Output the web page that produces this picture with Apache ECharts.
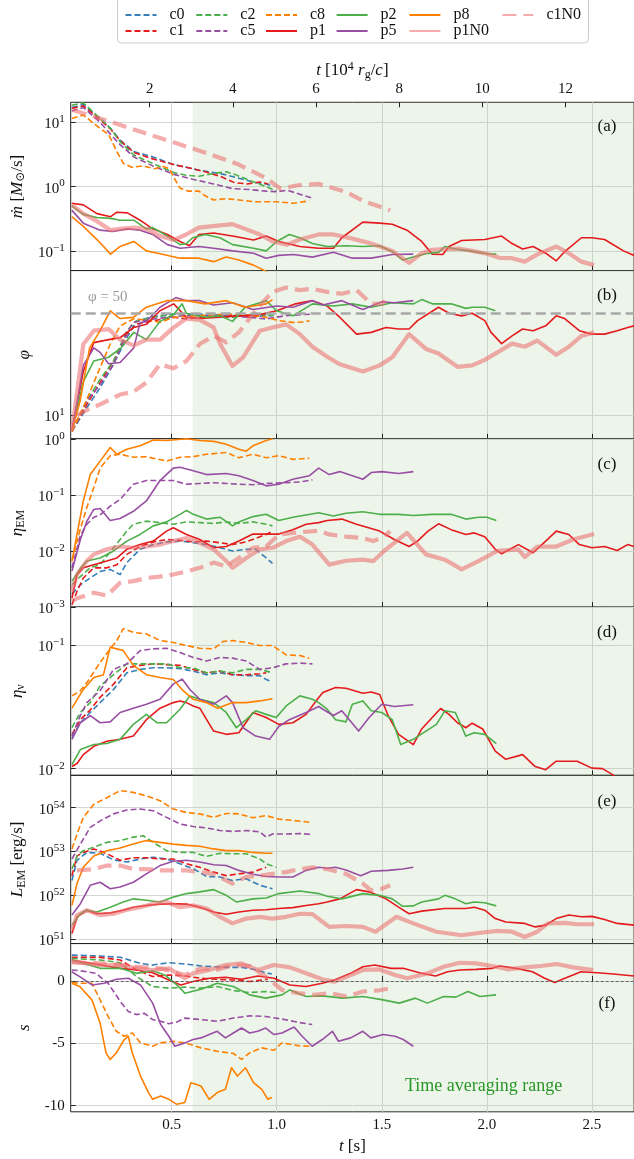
<!DOCTYPE html>
<html>
<head>
<meta charset="utf-8">
<script src="https://cdn.jsdelivr.net/npm/echarts@6/dist/echarts.min.js"></script>
<style>
html, body { margin: 0; padding: 0; background: #fff; }
#chart { width: 634px; height: 1159px; }
</style>
</head>
<body>
<div id="chart"></div>
<script>
// run names, in legend order
const names = ['c0', 'c1', 'c2', 'c5', 'c8', 'p1', 'p2', 'p5', 'p8', 'p1N0', 'c1N0'];
const xTicks = [0.5, 1.0, 1.5, 2.0, 2.5];
const topTicks = [2, 4, 6, 8, 10, 12];
const avgRange = [0.6, 2.7];
const phiRef = 50;

// (a) mdot [Msun/s]
const mdot_c0 = [[0.025,17],[0.08,19],[0.16,11.5],[0.21,8],[0.255,5.3],[0.32,3.5],[0.41,2.9],[0.51,2.2],[0.57,2.0],[0.63,1.8],[0.73,1.6],[0.82,1.35],[0.89,1.17],[0.95,1.1],[0.98,1.02]];
const mdot_c1 = [[0.025,16.5],[0.08,18],[0.16,11],[0.21,7.8],[0.255,5.2],[0.32,3.4],[0.41,2.7],[0.51,2.2],[0.6,1.9],[0.66,1.7],[0.73,1.45],[0.8,1.15],[0.86,1.1],[0.92,1.18],[0.96,1.1]];
const mdot_c2 = [[0.025,18.5],[0.08,20],[0.16,11.5],[0.21,8],[0.255,5],[0.32,3.1],[0.41,2.3],[0.51,1.65],[0.57,1.5],[0.63,1.45],[0.7,1.6],[0.76,1.7],[0.8,1.55],[0.87,1.25],[0.95,1.0],[1.0,0.85]];
const mdot_c5 = [[0.025,15],[0.08,17],[0.16,10],[0.21,6.5],[0.255,4.5],[0.32,2.9],[0.41,2.1],[0.51,1.55],[0.6,1.3],[0.7,1.1],[0.79,0.93],[0.87,0.9],[0.95,0.85],[1.0,0.83],[1.05,0.88],[1.11,0.76],[1.17,0.66]];
const mdot_c8 = [[0.025,11.5],[0.08,13],[0.16,8],[0.2,6.5],[0.24,3.5],[0.27,2.3],[0.31,2.0],[0.36,2.1],[0.42,1.9],[0.46,2.05],[0.49,1.9],[0.51,1.4],[0.54,0.95],[0.58,0.85],[0.63,0.85],[0.66,0.72],[0.7,0.62],[0.76,0.65],[0.82,0.62],[0.9,0.58],[1.0,0.58],[1.08,0.55],[1.155,0.6]];
const mdot_p1 = [[0.025,0.55],[0.08,0.52],[0.145,0.38],[0.21,0.34],[0.24,0.4],[0.29,0.39],[0.35,0.30],[0.41,0.22],[0.48,0.18],[0.54,0.14],[0.585,0.12],[0.63,0.18],[0.7,0.19],[0.79,0.17],[0.89,0.148],[0.95,0.17],[1.01,0.14],[1.11,0.117],[1.2,0.11],[1.27,0.11],[1.31,0.16],[1.41,0.28],[1.49,0.27],[1.55,0.26],[1.62,0.21],[1.69,0.14],[1.74,0.089],[1.79,0.088],[1.82,0.117],[1.88,0.145],[1.99,0.15],[2.07,0.17],[2.12,0.13],[2.17,0.107],[2.22,0.117],[2.28,0.092],[2.33,0.07],[2.37,0.097],[2.45,0.16],[2.5,0.16],[2.56,0.15],[2.65,0.1],[2.7,0.085]];
const mdot_p2 = [[0.025,0.5],[0.08,0.37],[0.145,0.33],[0.21,0.32],[0.255,0.30],[0.32,0.30],[0.38,0.22],[0.41,0.23],[0.48,0.17],[0.54,0.125],[0.57,0.13],[0.6,0.16],[0.66,0.18],[0.73,0.16],[0.79,0.125],[0.89,0.11],[0.95,0.10],[1.0,0.14],[1.06,0.18],[1.11,0.16],[1.17,0.13],[1.24,0.117],[1.33,0.12],[1.41,0.117],[1.49,0.12],[1.55,0.097],[1.6,0.072],[1.65,0.08],[1.71,0.09],[1.77,0.095],[1.8,0.117],[1.85,0.107],[1.92,0.1],[2.0,0.09],[2.045,0.089]];
const mdot_p5 = [[0.025,0.43],[0.08,0.27],[0.16,0.21],[0.22,0.2],[0.29,0.22],[0.35,0.21],[0.41,0.18],[0.48,0.125],[0.54,0.11],[0.63,0.117],[0.7,0.11],[0.79,0.10],[0.89,0.092],[0.95,0.077],[1.01,0.085],[1.08,0.088],[1.17,0.08],[1.27,0.095],[1.36,0.077],[1.45,0.077],[1.55,0.088],[1.65,0.089]];
const mdot_p8 = [[0.025,0.34],[0.08,0.24],[0.145,0.15],[0.21,0.089],[0.255,0.117],[0.32,0.14],[0.38,0.1],[0.445,0.09],[0.54,0.077],[0.63,0.077],[0.7,0.068],[0.76,0.08],[0.82,0.072],[0.89,0.06],[0.95,0.048],[0.98,0.042]];
const mdot_p1N0 = [[0.025,0.52],[0.08,0.38],[0.145,0.29],[0.21,0.21],[0.255,0.22],[0.32,0.23],[0.38,0.22],[0.445,0.17],[0.51,0.148],[0.57,0.18],[0.63,0.23],[0.73,0.25],[0.79,0.26],[0.85,0.22],[0.92,0.18],[0.98,0.14],[1.05,0.125],[1.11,0.15],[1.2,0.18],[1.27,0.18],[1.36,0.155],[1.45,0.13],[1.55,0.1],[1.63,0.065],[1.69,0.092],[1.74,0.104],[1.8,0.107],[1.87,0.108],[1.93,0.1],[2.0,0.09],[2.06,0.078],[2.12,0.077],[2.18,0.068],[2.24,0.088],[2.33,0.117],[2.39,0.092],[2.45,0.068],[2.51,0.06]];
const mdot_c1N0 = [[0.03,15.5],[0.16,11.5],[0.35,7.2],[0.5,5.0],[0.67,3.3],[0.82,2.2],[0.95,1.35],[1.02,0.92],[1.1,1.05],[1.2,1.1],[1.33,0.83],[1.41,0.6],[1.54,0.43]];

// (b) phi
const phi_c0 = [[0.026,7.8],[0.097,11.3],[0.16,15.5],[0.224,22.4],[0.287,34],[0.334,44.5],[0.413,47.4],[0.508,49.4],[0.634,49.4],[0.79,48.2],[0.887,47.4],[0.98,48.2]];
const phi_c1 = [[0.026,7.8],[0.097,11.9],[0.16,16.8],[0.224,23.6],[0.287,36],[0.334,42.2],[0.413,44.5],[0.508,46.9],[0.571,45.7],[0.634,46.9],[0.79,48.2],[0.887,46.9],[0.95,49.4]];
const phi_c2 = [[0.026,7.8],[0.097,12.6],[0.16,17.7],[0.224,23.6],[0.287,38],[0.334,44.5],[0.413,46.9],[0.508,49.4],[0.634,48.2],[0.79,46.9],[0.887,49.4],[0.998,48.2]];
const phi_c5 = [[0.026,7.8],[0.097,12.6],[0.16,16.3],[0.224,22.4],[0.287,37],[0.318,43.3],[0.38,45],[0.476,46.9],[0.571,48.2],[0.7,48.2],[0.82,47.6],[0.95,45.7],[1.045,48.2],[1.17,49.4]];
const phi_c8 = [[0.026,7.8],[0.097,12.9],[0.16,21.3],[0.208,30.8],[0.255,41],[0.318,45.7],[0.38,45],[0.445,43.3],[0.508,46.9],[0.634,48.2],[0.76,49.4],[0.887,48.2],[0.95,46.9],[1.01,44.5],[1.077,43.3],[1.13,43.6],[1.156,44.5]];
const phi_p1 = [[0.026,7.8],[0.08,20],[0.13,31.5],[0.2,33],[0.255,34],[0.32,40],[0.38,42],[0.445,52],[0.51,58],[0.57,47],[0.634,46],[0.73,47],[0.82,48],[0.92,49],[1.0,52],[1.09,58],[1.17,61],[1.24,56],[1.3,47],[1.38,36],[1.45,37],[1.52,40],[1.58,39],[1.63,39],[1.67,44.5],[1.77,55],[1.82,50],[1.88,48],[1.93,50],[1.99,44.5],[2.02,37],[2.07,31],[2.12,35],[2.17,39],[2.22,38],[2.28,41],[2.33,48],[2.37,46],[2.44,38],[2.5,36],[2.56,36],[2.62,38],[2.67,40],[2.7,41]];
const phi_p2 = [[0.026,7.8],[0.08,17],[0.13,23.6],[0.2,25],[0.26,29],[0.32,37],[0.38,33],[0.445,44],[0.51,49],[0.55,58],[0.57,50],[0.66,47],[0.73,48],[0.79,44],[0.85,55],[0.95,61],[1.0,52],[1.077,48],[1.17,58],[1.27,56],[1.36,58],[1.45,55],[1.55,59],[1.65,58],[1.69,62],[1.74,58],[1.83,58],[1.9,54],[1.93,55],[1.99,55],[2.04,52]];
const phi_p5 = [[0.026,7.8],[0.08,22],[0.13,29],[0.16,27],[0.2,22.6],[0.255,23],[0.32,29],[0.35,43],[0.38,44],[0.445,55],[0.52,64],[0.57,61],[0.634,61],[0.7,57],[0.79,59],[0.887,53],[1.0,56],[1.077,55],[1.17,61],[1.22,57],[1.31,61],[1.41,53],[1.5,60],[1.56,59],[1.65,61]];
const phi_p8 = [[0.026,7.8],[0.065,12.6],[0.11,29],[0.16,38],[0.208,52],[0.255,46],[0.318,46.9],[0.38,55],[0.476,61],[0.571,61],[0.66,58],[0.76,61],[0.85,55],[0.95,58],[0.98,62]];
const phi_p1N0 = [[0.026,7.8],[0.08,30.7],[0.13,38],[0.2,39],[0.255,33],[0.32,30],[0.38,33],[0.445,33],[0.51,40],[0.57,46],[0.634,45],[0.7,40],[0.73,31],[0.79,21.8],[0.84,25],[0.92,38],[0.98,40],[1.045,42],[1.11,36],[1.17,29.5],[1.24,25.2],[1.3,22.4],[1.41,20],[1.49,22],[1.55,25],[1.63,36],[1.71,28.5],[1.77,26.5],[1.86,21.5],[1.93,22],[1.99,24],[2.05,27],[2.12,31],[2.18,29.5],[2.24,32.5],[2.33,26],[2.39,29.5],[2.45,35],[2.51,37]];
const phi_c1N0 = [[0.05,10],[0.097,10.9],[0.16,11.9],[0.255,13.9],[0.318,14.5],[0.38,16.8],[0.445,22.4],[0.508,21],[0.571,23.6],[0.634,30.8],[0.7,35],[0.76,31.6],[0.82,37],[0.92,56.5],[0.98,70],[1.045,75],[1.11,72],[1.17,73.5],[1.24,70],[1.31,68],[1.38,72],[1.45,58],[1.5,58],[1.54,65]];

// (c) eta_EM
const etaEM_c0 = [[0.026,0.0017],[0.066,0.0025],[0.113,0.0033],[0.16,0.0043],[0.208,0.0047],[0.255,0.0038],[0.287,0.0062],[0.35,0.0107],[0.413,0.013],[0.476,0.0145],[0.54,0.015],[0.603,0.014],[0.666,0.013],[0.73,0.0114],[0.79,0.01],[0.855,0.0107],[0.9,0.0107],[0.95,0.0075],[0.98,0.006]];
const etaEM_c1 = [[0.026,0.0011],[0.05,0.0019],[0.08,0.0033],[0.13,0.005],[0.192,0.005],[0.24,0.0057],[0.287,0.0087],[0.35,0.012],[0.413,0.0145],[0.476,0.016],[0.54,0.0155],[0.603,0.0145],[0.666,0.015],[0.73,0.014],[0.79,0.013],[0.855,0.0145],[0.95,0.0197],[0.98,0.0226]];
const etaEM_c2 = [[0.026,0.0025],[0.066,0.0035],[0.113,0.005],[0.16,0.0057],[0.224,0.0114],[0.287,0.0226],[0.318,0.03],[0.38,0.034],[0.445,0.032],[0.508,0.03],[0.571,0.033],[0.634,0.032],[0.7,0.031],[0.76,0.033],[0.82,0.031],[0.887,0.033],[0.95,0.03],[0.98,0.028]];
const etaEM_c5 = [[0.026,0.005],[0.066,0.019],[0.097,0.03],[0.13,0.04],[0.16,0.044],[0.208,0.063],[0.255,0.083],[0.318,0.155],[0.38,0.18],[0.445,0.18],[0.508,0.18],[0.571,0.155],[0.634,0.16],[0.7,0.165],[0.76,0.16],[0.82,0.155],[0.887,0.152],[0.95,0.16],[1.045,0.165],[1.11,0.17],[1.17,0.185]];
const etaEM_c8 = [[0.026,0.0066],[0.066,0.025],[0.097,0.06],[0.13,0.135],[0.16,0.3],[0.208,0.5],[0.255,0.53],[0.318,0.47],[0.38,0.48],[0.476,0.4],[0.54,0.47],[0.603,0.48],[0.666,0.53],[0.76,0.57],[0.82,0.46],[0.887,0.53],[0.95,0.46],[1.01,0.5],[1.077,0.43],[1.155,0.45]];
const etaEM_p1 = [[0.026,0.00145],[0.05,0.0038],[0.08,0.005],[0.13,0.0057],[0.192,0.0066],[0.24,0.0075],[0.287,0.0107],[0.35,0.013],[0.413,0.015],[0.476,0.0226],[0.508,0.026],[0.571,0.0197],[0.634,0.016],[0.7,0.0114],[0.76,0.012],[0.82,0.015],[0.887,0.02],[0.95,0.02],[1.01,0.02],[1.077,0.024],[1.14,0.03],[1.2,0.032],[1.24,0.035],[1.31,0.037],[1.38,0.03],[1.49,0.0226],[1.56,0.016],[1.63,0.012],[1.67,0.015],[1.72,0.0226],[1.77,0.0305],[1.83,0.024],[1.9,0.0197],[1.94,0.021],[1.99,0.018],[2.04,0.0107],[2.07,0.0089],[2.15,0.013],[2.22,0.0093],[2.28,0.015],[2.33,0.0226],[2.39,0.0197],[2.44,0.013],[2.5,0.0114],[2.56,0.012],[2.62,0.0102],[2.67,0.013],[2.7,0.012]];
const etaEM_p2 = [[0.026,0.0029],[0.066,0.0049],[0.097,0.0066],[0.16,0.0075],[0.224,0.01],[0.287,0.015],[0.35,0.0197],[0.413,0.028],[0.476,0.033],[0.54,0.045],[0.571,0.053],[0.603,0.045],[0.666,0.037],[0.73,0.04],[0.79,0.028],[0.82,0.033],[0.887,0.041],[0.95,0.045],[1.01,0.035],[1.077,0.04],[1.2,0.048],[1.27,0.042],[1.33,0.047],[1.41,0.05],[1.49,0.045],[1.58,0.045],[1.65,0.043],[1.74,0.045],[1.83,0.045],[1.9,0.037],[1.96,0.04],[2.0,0.04],[2.045,0.035]];
const etaEM_p5 = [[0.026,0.0044],[0.066,0.016],[0.097,0.034],[0.13,0.055],[0.16,0.057],[0.208,0.035],[0.255,0.038],[0.318,0.051],[0.38,0.078],[0.445,0.18],[0.508,0.3],[0.54,0.31],[0.603,0.27],[0.666,0.23],[0.76,0.24],[0.82,0.22],[0.887,0.18],[0.95,0.145],[1.01,0.155],[1.077,0.19],[1.156,0.22],[1.2,0.3],[1.25,0.23],[1.3,0.26],[1.41,0.19],[1.45,0.25],[1.5,0.26],[1.58,0.24],[1.65,0.26]];
const etaEM_p8 = [[0.026,0.0066],[0.05,0.0197],[0.08,0.078],[0.113,0.23],[0.16,0.4],[0.208,0.7],[0.24,0.53],[0.287,0.65],[0.35,0.75],[0.413,0.95],[0.476,0.93],[0.571,1.0],[0.634,0.93],[0.7,0.9],[0.76,0.8],[0.82,0.65],[0.855,0.6],[0.887,0.75],[0.95,0.93],[0.98,1.0]];
const etaEM_p1N0 = [[0.026,0.0019],[0.05,0.0038],[0.097,0.0066],[0.13,0.0087],[0.192,0.0107],[0.255,0.012],[0.318,0.0114],[0.38,0.012],[0.445,0.013],[0.508,0.015],[0.571,0.017],[0.634,0.014],[0.7,0.0107],[0.76,0.0066],[0.79,0.005],[0.855,0.0075],[0.92,0.0107],[0.98,0.0114],[1.045,0.015],[1.11,0.018],[1.17,0.013],[1.25,0.0057],[1.33,0.0067],[1.41,0.007],[1.46,0.0066],[1.52,0.0107],[1.62,0.021],[1.71,0.0087],[1.8,0.007],[1.88,0.0047],[1.96,0.0066],[2.05,0.01],[2.15,0.0107],[2.18,0.0078],[2.24,0.012],[2.33,0.012],[2.41,0.016],[2.51,0.02]];
const etaEM_c1N0 = [[0.026,0.0013],[0.066,0.0015],[0.13,0.0018],[0.192,0.0016],[0.255,0.0027],[0.318,0.0029],[0.38,0.0033],[0.445,0.0035],[0.508,0.0038],[0.571,0.0043],[0.634,0.005],[0.7,0.0062],[0.76,0.0053],[0.82,0.0075],[0.887,0.0114],[0.95,0.012],[1.01,0.0197],[1.077,0.021],[1.14,0.022],[1.2,0.023],[1.25,0.0197],[1.33,0.018],[1.41,0.017],[1.46,0.015],[1.51,0.018],[1.54,0.0226]];

// (d) eta_nu
const etanu_c0 = [[0.026,0.0178],[0.066,0.0236],[0.113,0.0286],[0.16,0.0344],[0.224,0.044],[0.287,0.06],[0.35,0.064],[0.413,0.066],[0.476,0.066],[0.54,0.065],[0.603,0.062],[0.666,0.058],[0.73,0.06],[0.79,0.058],[0.855,0.057],[0.92,0.057],[0.95,0.053],[0.975,0.051]];
const etanu_c1 = [[0.026,0.019],[0.066,0.025],[0.113,0.03],[0.16,0.038],[0.224,0.0486],[0.287,0.066],[0.35,0.069],[0.413,0.071],[0.476,0.07],[0.54,0.069],[0.603,0.064],[0.666,0.06],[0.73,0.062],[0.79,0.058],[0.855,0.058],[0.92,0.059],[0.95,0.06]];
const etanu_c2 = [[0.026,0.0215],[0.066,0.0286],[0.113,0.0344],[0.16,0.047],[0.224,0.058],[0.287,0.071],[0.35,0.071],[0.413,0.071],[0.476,0.071],[0.54,0.066],[0.603,0.066],[0.666,0.06],[0.73,0.062],[0.79,0.06],[0.855,0.064],[0.92,0.064],[0.95,0.062],[0.98,0.06]];
const etanu_c5 = [[0.026,0.0184],[0.066,0.027],[0.097,0.0344],[0.16,0.043],[0.224,0.064],[0.287,0.071],[0.35,0.091],[0.413,0.094],[0.476,0.095],[0.54,0.088],[0.603,0.08],[0.666,0.075],[0.73,0.08],[0.79,0.079],[0.855,0.075],[0.92,0.064],[0.98,0.066],[1.045,0.071],[1.11,0.072],[1.17,0.071]];
const etanu_c8 = [[0.026,0.039],[0.066,0.043],[0.097,0.05],[0.16,0.073],[0.208,0.094],[0.24,0.11],[0.27,0.137],[0.318,0.128],[0.38,0.124],[0.445,0.11],[0.508,0.106],[0.571,0.1],[0.634,0.095],[0.7,0.094],[0.745,0.108],[0.79,0.11],[0.855,0.106],[0.92,0.1],[0.98,0.1],[1.045,0.084],[1.11,0.083],[1.155,0.079]];
const etanu_p1 = [[0.026,0.0104],[0.05,0.011],[0.08,0.013],[0.13,0.0152],[0.192,0.0167],[0.255,0.0173],[0.318,0.0184],[0.38,0.025],[0.445,0.031],[0.508,0.0344],[0.54,0.0355],[0.571,0.0344],[0.603,0.0323],[0.634,0.031],[0.7,0.0202],[0.76,0.019],[0.82,0.0196],[0.887,0.0286],[0.95,0.026],[1.01,0.0229],[1.077,0.0236],[1.14,0.0276],[1.2,0.0378],[1.22,0.0415],[1.28,0.0456],[1.33,0.045],[1.41,0.041],[1.45,0.042],[1.49,0.04],[1.53,0.027],[1.58,0.019],[1.65,0.0157],[1.69,0.021],[1.74,0.026],[1.78,0.0308],[1.82,0.0276],[1.86,0.0236],[1.9,0.0215],[1.93,0.0234],[1.98,0.021],[2.04,0.0139],[2.09,0.0119],[2.17,0.013],[2.23,0.0104],[2.28,0.0098],[2.33,0.0115],[2.43,0.0115],[2.5,0.0101],[2.55,0.01],[2.6,0.0089],[2.63,0.0078]];
const etanu_p2 = [[0.026,0.0108],[0.066,0.0143],[0.13,0.0157],[0.192,0.016],[0.255,0.0173],[0.318,0.0229],[0.38,0.0276],[0.43,0.0236],[0.476,0.0236],[0.54,0.0304],[0.587,0.039],[0.634,0.0366],[0.7,0.0344],[0.76,0.0286],[0.808,0.0215],[0.855,0.025],[0.9,0.0295],[0.95,0.0276],[0.998,0.026],[1.045,0.0323],[1.11,0.039],[1.17,0.0366],[1.2,0.0344],[1.24,0.0304],[1.28,0.025],[1.33,0.024],[1.36,0.0334],[1.41,0.0355],[1.45,0.0295],[1.5,0.0286],[1.55,0.025],[1.59,0.0157],[1.65,0.0173],[1.71,0.0202],[1.76,0.0229],[1.8,0.0295],[1.85,0.0286],[1.9,0.0184],[1.94,0.0196],[1.99,0.019],[2.045,0.016]];
const etanu_p5 = [[0.026,0.0173],[0.066,0.0236],[0.113,0.027],[0.16,0.0236],[0.208,0.024],[0.255,0.0286],[0.318,0.031],[0.38,0.0334],[0.445,0.0366],[0.508,0.0486],[0.55,0.0534],[0.587,0.044],[0.634,0.0366],[0.7,0.0334],[0.76,0.039],[0.79,0.0344],[0.84,0.0215],[0.9,0.0184],[0.966,0.0173],[1.01,0.022],[1.06,0.025],[1.14,0.0286],[1.2,0.032],[1.22,0.0304],[1.27,0.027],[1.31,0.0295],[1.39,0.0202],[1.44,0.026],[1.5,0.0334],[1.56,0.032],[1.65,0.033]];
const etanu_p8 = [[0.026,0.031],[0.08,0.044],[0.13,0.055],[0.176,0.058],[0.208,0.097],[0.24,0.094],[0.27,0.091],[0.318,0.069],[0.38,0.058],[0.445,0.055],[0.508,0.053],[0.555,0.043],[0.603,0.0366],[0.666,0.0344],[0.72,0.031],[0.79,0.0344],[0.855,0.0344],[0.92,0.0355],[0.98,0.037]];

// (e) log10 of L_EM [erg/s]
const logLEM_c0 = [[0.026,52.34],[0.05,52.8],[0.097,52.98],[0.16,52.96],[0.224,52.81],[0.287,52.76],[0.35,52.83],[0.413,52.87],[0.476,52.83],[0.54,52.72],[0.603,52.61],[0.666,52.43],[0.73,52.42],[0.79,52.34],[0.855,52.38],[0.92,52.23],[0.98,52.15]];
const logLEM_c1 = [[0.026,52.45],[0.05,52.9],[0.08,52.98],[0.13,53.06],[0.192,52.95],[0.255,52.8],[0.318,52.86],[0.38,52.86],[0.445,52.83],[0.508,52.83],[0.571,52.72],[0.634,52.64],[0.7,52.53],[0.76,52.45],[0.82,52.49],[0.887,52.53],[0.95,52.64]];
const logLEM_c2 = [[0.026,52.6],[0.05,52.9],[0.08,53.02],[0.13,53.1],[0.192,53.21],[0.255,53.25],[0.318,53.33],[0.365,53.36],[0.413,53.21],[0.476,53.02],[0.54,52.98],[0.603,52.98],[0.666,52.89],[0.73,52.96],[0.79,52.95],[0.855,52.95],[0.92,52.83],[0.95,52.72],[0.998,52.64]];
const logLEM_c5 = [[0.026,52.83],[0.066,53.17],[0.113,53.55],[0.16,53.7],[0.224,53.86],[0.287,53.95],[0.35,53.97],[0.413,53.93],[0.476,53.78],[0.54,53.63],[0.603,53.57],[0.666,53.54],[0.73,53.48],[0.79,53.46],[0.855,53.48],[0.92,53.45],[0.95,53.33],[0.98,53.4],[1.045,53.4],[1.11,53.41],[1.17,53.39]];
const logLEM_c8 = [[0.026,53.06],[0.05,53.4],[0.08,53.78],[0.13,54.08],[0.192,54.23],[0.255,54.39],[0.318,54.35],[0.38,54.27],[0.445,54.16],[0.508,53.97],[0.571,53.89],[0.634,53.86],[0.7,53.78],[0.76,53.87],[0.82,53.86],[0.887,53.77],[0.95,53.82],[1.01,53.74],[1.077,53.71],[1.155,53.67]];
const logLEM_p1 = [[0.026,51.13],[0.05,51.51],[0.097,51.66],[0.145,51.58],[0.208,51.6],[0.27,51.66],[0.318,51.73],[0.38,51.77],[0.445,51.8],[0.508,51.81],[0.571,51.8],[0.634,51.73],[0.7,51.62],[0.76,51.57],[0.82,51.62],[0.887,51.66],[0.95,51.67],[1.01,51.7],[1.077,51.72],[1.14,51.77],[1.2,51.81],[1.24,51.85],[1.3,51.92],[1.38,52.13],[1.44,52.08],[1.52,51.92],[1.58,51.73],[1.63,51.58],[1.69,51.64],[1.8,51.7],[1.9,51.7],[1.94,51.73],[1.99,51.66],[2.04,51.47],[2.09,51.39],[2.18,51.36],[2.23,51.28],[2.28,51.32],[2.33,51.47],[2.39,51.55],[2.45,51.51],[2.5,51.52],[2.56,51.45],[2.62,51.36],[2.7,51.32]];
const logLEM_p2 = [[0.026,51.32],[0.066,51.58],[0.097,51.66],[0.145,51.62],[0.208,51.73],[0.27,51.85],[0.318,51.92],[0.38,51.89],[0.445,51.85],[0.508,51.96],[0.571,52.04],[0.634,52.08],[0.7,52.13],[0.76,52.0],[0.808,51.85],[0.887,51.92],[0.95,51.94],[1.01,52.04],[1.11,52.1],[1.2,52.04],[1.24,51.98],[1.31,51.92],[1.41,52.04],[1.49,52.0],[1.55,51.92],[1.6,51.75],[1.65,51.76],[1.69,51.85],[1.77,51.92],[1.8,52.0],[1.85,51.92],[1.9,51.81],[1.94,51.85],[1.99,51.83],[2.045,51.76]];
const logLEM_p5 = [[0.026,51.55],[0.066,51.81],[0.113,52.23],[0.16,52.3],[0.208,52.15],[0.255,52.19],[0.318,52.3],[0.38,52.49],[0.445,52.68],[0.508,52.78],[0.571,52.8],[0.634,52.76],[0.7,52.7],[0.76,52.68],[0.82,52.57],[0.887,52.48],[0.95,52.43],[1.01,52.42],[1.077,52.42],[1.14,52.57],[1.2,52.64],[1.24,52.62],[1.28,52.64],[1.33,52.58],[1.4,52.45],[1.45,52.55],[1.53,52.57],[1.6,52.6],[1.65,52.64]];
const logLEM_p8 = [[0.026,51.77],[0.05,52.27],[0.08,52.64],[0.13,52.9],[0.192,53.02],[0.255,53.08],[0.318,53.17],[0.38,53.25],[0.445,53.21],[0.508,53.17],[0.571,53.14],[0.634,53.12],[0.7,53.06],[0.76,53.02],[0.82,53.02],[0.887,52.98],[0.95,52.96],[0.98,52.96]];
const logLEM_p1N0 = [[0.026,51.2],[0.05,51.55],[0.097,51.66],[0.16,51.55],[0.224,51.58],[0.287,51.67],[0.35,51.73],[0.413,51.81],[0.476,51.85],[0.54,51.73],[0.603,51.77],[0.666,51.7],[0.73,51.51],[0.79,51.36],[0.855,51.47],[0.92,51.51],[0.98,51.47],[1.045,51.51],[1.11,51.58],[1.17,51.57],[1.25,51.28],[1.33,51.3],[1.41,51.28],[1.47,51.17],[1.57,51.51],[1.65,51.36],[1.76,51.17],[1.88,51.09],[1.96,51.14],[2.05,51.19],[2.12,51.17],[2.18,51.05],[2.24,51.17],[2.29,51.36],[2.37,51.37],[2.43,51.34],[2.51,51.34]];
const logLEM_c1N0 = [[0.05,52.57],[0.13,52.6],[0.192,52.68],[0.255,52.68],[0.318,52.6],[0.38,52.6],[0.445,52.57],[0.508,52.57],[0.571,52.57],[0.634,52.53],[0.7,52.49],[0.79,52.27],[0.855,52.42],[0.92,52.45],[0.98,52.49],[1.045,52.53],[1.11,52.6],[1.17,52.64],[1.24,52.6],[1.33,52.49],[1.41,52.27],[1.45,52.11],[1.5,52.15],[1.54,52.23]];

// (f) s
const s_c0 = [[0.025,2.07],[0.16,2.0],[0.256,1.9],[0.352,1.4],[0.41,1.28],[0.487,1.46],[0.563,1.36],[0.64,1.2],[0.756,1.09],[0.833,1.09],[0.89,0.93],[0.948,0.66],[0.977,0.56]];
const s_c1 = [[0.025,1.89],[0.16,1.89],[0.256,1.68],[0.333,0.88],[0.41,0.35],[0.487,0.48],[0.563,0.4],[0.64,0.21],[0.717,0.13],[0.794,0.08],[0.871,-0.05],[0.929,0.08],[0.958,0.13]];
const s_c2 = [[0.025,1.8],[0.16,1.68],[0.256,1.46],[0.333,0.35],[0.41,-0.45],[0.487,-0.58],[0.563,-0.5],[0.64,-0.58],[0.717,-0.45],[0.794,-0.77],[0.871,-0.93],[0.948,-0.85],[0.996,-0.93]];
const s_c5 = [[0.025,0.88],[0.063,0.82],[0.14,0.61],[0.198,-0.19],[0.256,-1.65],[0.294,-2.45],[0.333,-2.7],[0.371,-2.6],[0.41,-3.1],[0.448,-3.24],[0.487,-3.43],[0.525,-3.3],[0.563,-2.98],[0.64,-3.1],[0.717,-3.24],[0.794,-2.98],[0.871,-2.8],[0.948,-2.85],[1.025,-3.06],[1.102,-3.32],[1.169,-3.5]];
const s_c8 = [[0.025,-0.13],[0.063,-0.19],[0.121,-0.19],[0.16,-1.52],[0.198,-2.85],[0.237,-4.04],[0.275,-4.44],[0.313,-4.18],[0.352,-4.97],[0.41,-5.24],[0.448,-4.97],[0.506,-4.84],[0.563,-4.97],[0.64,-5.37],[0.717,-5.64],[0.794,-5.82],[0.833,-6.3],[0.871,-5.77],[0.929,-5.37],[0.987,-5.56],[1.025,-4.97],[1.102,-5.19],[1.16,-5.24]];
const s_p1 = [[0.025,1.68],[0.16,1.28],[0.256,1.01],[0.333,0.88],[0.41,0.66],[0.487,0.08],[0.544,-0.32],[0.602,-0.05],[0.679,0.21],[0.756,0.29],[0.833,0.13],[0.91,0.4],[0.987,0.21],[1.063,-0.32],[1.14,-0.45],[1.217,-0.19],[1.275,0.08],[1.352,0.61],[1.41,1.14],[1.467,1.28],[1.544,1.01],[1.602,1.01],[1.679,0.66],[1.756,0.4],[1.813,0.74],[1.871,0.88],[1.948,0.93],[2.025,1.01],[2.063,1.2],[2.14,1.01],[2.217,0.74],[2.275,0.21],[2.323,-0.13],[2.371,0.21],[2.448,0.74],[2.525,0.66],[2.602,0.56],[2.7,0.4]];
const s_p2 = [[0.025,1.68],[0.16,1.01],[0.256,1.01],[0.333,0.61],[0.41,0.82],[0.467,0.48],[0.525,-0.32],[0.563,-0.98],[0.64,-0.66],[0.717,-0.19],[0.794,-0.45],[0.871,-1.12],[0.948,-1.38],[1.025,-1.12],[1.063,-0.72],[1.14,-1.25],[1.217,-1.2],[1.313,-1.38],[1.41,-1.25],[1.506,-1.52],[1.583,-1.78],[1.66,-1.38],[1.717,-1.78],[1.794,-1.25],[1.852,-1.3],[1.91,-0.85],[1.967,-1.25],[2.044,-1.12]];
const s_p5 = [[0.025,0.74],[0.063,0.35],[0.121,-0.32],[0.179,-0.19],[0.237,0.13],[0.294,0.21],[0.352,-0.32],[0.41,-1.78],[0.448,-3.5],[0.487,-4.44],[0.515,-5.24],[0.563,-4.97],[0.602,-4.7],[0.64,-4.57],[0.679,-4.3],[0.717,-4.04],[0.756,-4.57],[0.794,-4.18],[0.833,-3.78],[0.871,-4.18],[0.91,-4.04],[0.948,-3.78],[0.987,-4.3],[1.025,-4.18],[1.083,-3.7],[1.121,-4.44],[1.169,-5.24],[1.217,-4.7],[1.265,-4.04],[1.294,-4.84],[1.352,-4.57],[1.41,-4.04],[1.448,-4.57],[1.506,-4.3],[1.563,-4.44],[1.602,-4.7],[1.65,-5.24]];
const s_p8 = [[0.025,-0.19],[0.063,-0.45],[0.121,-1.52],[0.16,-3.38],[0.188,-5.77],[0.208,-6.3],[0.237,-5.77],[0.275,-4.7],[0.294,-4.44],[0.313,-5.77],[0.352,-7.63],[0.39,-8.96],[0.41,-9.5],[0.448,-9.23],[0.487,-9.5],[0.525,-9.9],[0.563,-9.76],[0.592,-8.16],[0.64,-8.43],[0.679,-9.5],[0.717,-8.96],[0.756,-8.7],[0.785,-6.97],[0.813,-7.63],[0.852,-6.97],[0.89,-8.16],[0.929,-8.7],[0.958,-9.5],[0.977,-9.36]];
const s_p1N0 = [[0.025,1.54],[0.16,1.28],[0.256,1.28],[0.333,1.01],[0.41,0.88],[0.487,1.01],[0.563,0.21],[0.602,0.61],[0.679,0.88],[0.756,1.28],[0.833,1.41],[0.91,0.88],[0.987,1.28],[1.063,1.09],[1.14,0.61],[1.217,0.13],[1.275,-0.05],[1.352,0.48],[1.41,0.88],[1.487,0.93],[1.563,0.48],[1.621,0.21],[1.717,0.61],[1.794,1.14],[1.871,1.46],[1.948,1.41],[2.025,1.2],[2.102,0.93],[2.179,1.09],[2.256,1.2],[2.333,1.36],[2.41,1.09],[2.506,0.88]];
const s_c1N0 = [[0.025,1.5],[0.16,1.41],[0.256,1.28],[0.333,1.14],[0.448,1.01],[0.506,0.74],[0.563,0.48],[0.64,1.01],[0.717,0.9],[0.794,1.28],[0.871,1.2],[0.948,0.35],[1.025,-0.72],[1.102,-0.98],[1.179,-1.12],[1.256,-0.98],[1.333,-1.25],[1.41,-0.85],[1.487,-0.75],[1.544,-0.58]];

const SERIF = "'Liberation Serif', 'DejaVu Serif', serif";
const RED = '#e41a1c', BLUE = '#377eb8', GREEN = '#4daf4a', PURPLE = '#984ea3', ORANGE = '#ff7f00';
const PINK = 'rgba(236,112,112,0.58)';
const SHADE = 'rgba(165,205,150,0.2)';   // see-through so grid lines stay visible
const GRIDLINE = '#d6d6d6';

const lineStyles = {
  c0: { color: BLUE, type: [6, 3], width: 1.6 },
  c1: { color: RED, type: [6, 3], width: 1.6 },
  c2: { color: GREEN, type: [6, 3], width: 1.6 },
  c5: { color: PURPLE, type: [6, 3], width: 1.6 },
  c8: { color: ORANGE, type: [6, 3], width: 1.6 },
  p1: { color: RED, type: 'solid', width: 1.6 },
  p2: { color: GREEN, type: 'solid', width: 1.6 },
  p5: { color: PURPLE, type: 'solid', width: 1.6 },
  p8: { color: ORANGE, type: 'solid', width: 1.6 },
  p1N0: { color: PINK, type: 'solid', width: 4.2 },
  c1N0: { color: PINK, type: [14, 7], width: 4.2 }
};

const fromLog = arr => arr.map(([t, e]) => [t, Math.pow(10, e)]);

const panels = [
  { label: '(a)', labelY: 127, log: true, min: 0.0494, max: 20.5, ticks: [0.1, 1, 10],
    name: '{i|ṁ} [{i|M}{sub|⊙}/s]', nameGap: 37,
    data: { c0: mdot_c0, c1: mdot_c1, c2: mdot_c2, c5: mdot_c5, c8: mdot_c8, p1: mdot_p1, p2: mdot_p2, p5: mdot_p5, p8: mdot_p8, p1N0: mdot_p1N0, c1N0: mdot_c1N0 } },
  { label: '(b)', labelY: 296, log: true, min: 6.92, max: 98, ticks: [10],
    name: '{i|φ}', nameGap: 33,
    data: { c0: phi_c0, c1: phi_c1, c2: phi_c2, c5: phi_c5, c8: phi_c8, p1: phi_p1, p2: phi_p2, p5: phi_p5, p8: phi_p8, p1N0: phi_p1N0, c1N0: phi_c1N0 } },
  { label: '(c)', labelY: 465, log: true, min: 0.001, max: 1, ticks: [0.001, 0.01, 0.1, 1],
    name: '{i|η}{sub|EM}', nameGap: 42,
    data: { c0: etaEM_c0, c1: etaEM_c1, c2: etaEM_c2, c5: etaEM_c5, c8: etaEM_c8, p1: etaEM_p1, p2: etaEM_p2, p5: etaEM_p5, p8: etaEM_p8, p1N0: etaEM_p1N0, c1N0: etaEM_c1N0 } },
  { label: '(d)', labelY: 633, log: true, min: 0.00883, max: 0.2055, ticks: [0.01, 0.1],
    name: '{i|η}{sub|ν}', nameGap: 38,
    data: { c0: etanu_c0, c1: etanu_c1, c2: etanu_c2, c5: etanu_c5, c8: etanu_c8, p1: etanu_p1, p2: etanu_p2, p5: etanu_p5, p8: etanu_p8 } },
  { label: '(e)', labelY: 802, log: true, min: 7.94e50, max: 5.5e54, ticks: [1e51, 1e52, 1e53, 1e54],
    name: '{i|L}{sub|EM} [erg/s]', nameGap: 39,
    data: { c0: fromLog(logLEM_c0), c1: fromLog(logLEM_c1), c2: fromLog(logLEM_c2), c5: fromLog(logLEM_c5), c8: fromLog(logLEM_c8), p1: fromLog(logLEM_p1), p2: fromLog(logLEM_p2), p5: fromLog(logLEM_p5), p8: fromLog(logLEM_p8), p1N0: fromLog(logLEM_p1N0), c1N0: fromLog(logLEM_c1N0) } },
  { label: '(f)', labelY: 1004, log: false, min: -10.5, max: 3, ticks: [-10, -5, 0],
    name: '{i|s}', nameGap: 38,
    data: { c0: s_c0, c1: s_c1, c2: s_c2, c5: s_c5, c8: s_c8, p1: s_p1, p2: s_p2, p5: s_p5, p8: s_p8, p1N0: s_p1N0, c1N0: s_c1N0 } }
];

const GRID_LEFT = 70.7, GRID_W = 565.3, TOP0 = 102.3, PH = 168.25;
const X_MIN = 0.02, X_MAX = 2.7, RG_PER_S = 5.055;

const nameRich = {
  i: { fontFamily: SERIF, fontStyle: 'italic', fontSize: 17, color: '#111' },
  sub: { fontFamily: SERIF, fontSize: 12, color: '#111', padding: [8, 0, 0, 0] },
  sup: { fontFamily: SERIF, fontSize: 12, color: '#111', padding: [0, 0, 8, 0] }
};
const tickRich = {
  b: { fontFamily: SERIF, fontSize: 15, color: '#111', padding: [4, 0, 0, 0] },
  s: { fontFamily: SERIF, fontSize: 11, color: '#111', padding: [0, 0, 6, 0] }
};

const powLabel = v => {
  const e = Math.round(Math.log10(v));
  return '{b|10}{s|' + (e < 0 ? '\u2212' + (-e) : e) + '}';
};

const grid = panels.map((p, i) => ({
  left: GRID_LEFT, top: TOP0 + PH * i, width: GRID_W, height: PH,
  show: true, borderColor: '#222', borderWidth: 1, backgroundColor: 'transparent'
}));

const xAxis = panels.map((p, i) => ({
  gridIndex: i, type: 'value', min: X_MIN, max: X_MAX, z: 1,
  axisLine: { show: false },
  axisTick: { show: true, inside: true, length: 5, customValues: xTicks, lineStyle: { color: '#222' } },
  axisLabel: { show: i === 5, customValues: xTicks, formatter: v => v.toFixed(1), fontFamily: SERIF, fontSize: 15, color: '#111', margin: 6 },
  splitLine: { show: true, lineStyle: { color: GRIDLINE, width: 1 } },
  name: i === 5 ? '{i|t} [s]' : '', nameLocation: 'middle', nameGap: 26,
  nameTextStyle: { fontFamily: SERIF, fontSize: 17, color: '#111', rich: nameRich }
}));
xAxis.push({
  gridIndex: 0, type: 'value', position: 'top', min: X_MIN * RG_PER_S, max: X_MAX * RG_PER_S, z: 1,
  axisLine: { show: false },
  axisTick: { show: true, inside: true, length: 5, customValues: topTicks, lineStyle: { color: '#222' } },
  axisLabel: { customValues: topTicks, formatter: v => String(Math.round(v)), fontFamily: SERIF, fontSize: 15, color: '#111', margin: 6 },
  splitLine: { show: false },
  name: '{i|t} [10{sup|4} {i|r}{sub|g}/{i|c}]', nameLocation: 'middle', nameGap: 19,
  nameTextStyle: { fontFamily: SERIF, fontSize: 17, color: '#111', rich: nameRich }
});

const yAxis = panels.map((p, i) => ({
  gridIndex: i, type: p.log ? 'log' : 'value', min: p.min, max: p.max, z: 1,
  axisLine: { show: false },
  axisTick: { show: true, inside: true, length: 5, customValues: p.ticks, lineStyle: { color: '#222' } },
  axisLabel: {
    customValues: p.ticks,
    formatter: p.log ? powLabel : (v => String(v)),
    fontFamily: SERIF, fontSize: 15, color: '#111', margin: 6, rich: tickRich
  },
  splitLine: { show: true, lineStyle: { color: GRIDLINE, width: 1 } },
  name: p.name, nameLocation: 'middle', nameRotate: 90, nameGap: p.nameGap,
  nameTextStyle: { fontFamily: SERIF, fontSize: 17, color: '#111', rich: nameRich }
}));

const series = [];
panels.forEach((p, i) => {
  // time-averaging band
  series.push({
    type: 'line', xAxisIndex: i, yAxisIndex: i, data: [], z: 0, silent: true,
    markArea: { silent: true, itemStyle: { color: SHADE }, data: [[{ xAxis: avgRange[0] }, { xAxis: avgRange[1] }]] }
  });
  names.forEach(n => {
    const d = p.data[n];
    if (!d) return;
    series.push({
      name: n, type: 'line', xAxisIndex: i, yAxisIndex: i, data: d,
      symbol: 'none', showSymbol: false, silent: true, z: 2,
      itemStyle: { color: lineStyles[n].color },
      lineStyle: Object.assign({ cap: 'butt', join: 'round' }, lineStyles[n]),
      emphasis: { disabled: true }
    });
  });
});
// phi = 50 reference
series.push({
  type: 'line', xAxisIndex: 1, yAxisIndex: 1, data: [], z: 1.5, silent: true,
  markLine: { silent: true, symbol: ['none', 'none'], label: { show: false },
    lineStyle: { color: '#a8a8a8', width: 2.6, type: [10, 5] }, data: [{ yAxis: phiRef }] }
});
// s = 0 reference
series.push({
  type: 'line', xAxisIndex: 5, yAxisIndex: 5, data: [], z: 1.5, silent: true,
  markLine: { silent: true, symbol: ['none', 'none'], label: { show: false },
    lineStyle: { color: '#555', width: 0.9, type: [3, 2] }, data: [{ yAxis: 0 }] }
});

const legendCols = [['c0', 'c1'], ['c2', 'c5'], ['c8', 'p1'], ['p2', 'p5'], ['p8', 'p1N0'], ['c1N0']];
const legendLeft = [124.5, 195.3, 265, 335.6, 408.4, 501.4];
const legend = legendCols.map((d, i) => ({
  data: d, orient: 'vertical', left: legendLeft[i], top: 7, padding: 0, itemGap: 0,
  itemWidth: 31, itemHeight: 17, selectedMode: false,
  itemStyle: { opacity: 0 },
  textStyle: { fontFamily: SERIF, fontSize: 16, color: '#111', padding: [0, 0, 0, 8] }
}));

const graphic = [
  { type: 'rect', shape: { x: 117.5, y: -4, width: 471, height: 47, r: 4 }, style: { fill: '#fff', stroke: '#cccccc', lineWidth: 1 }, z: -1 },
  { type: 'text', left: 88, top: 290, style: { text: 'φ = 50', fontFamily: SERIF, fontSize: 15, fill: '#9a9a9a' }, z: 5 },
  { type: 'text', left: 405, top: 1077, style: { text: 'Time averaging range', fontFamily: SERIF, fontSize: 18, fill: '#2a962a' }, z: 5 }
];
panels.forEach(p => {
  graphic.push({ type: 'text', x: 607, y: p.labelY, style: { text: p.label, fontFamily: SERIF, fontSize: 17, fill: '#111', align: 'center', verticalAlign: 'middle' }, z: 5 });
});

const chart = echarts.init(document.getElementById('chart'), null, { renderer: 'canvas' });
chart.setOption({
  animation: false,
  backgroundColor: '#fff',
  grid, xAxis, yAxis, legend, series, graphic
});
</script>
</body>
</html>
